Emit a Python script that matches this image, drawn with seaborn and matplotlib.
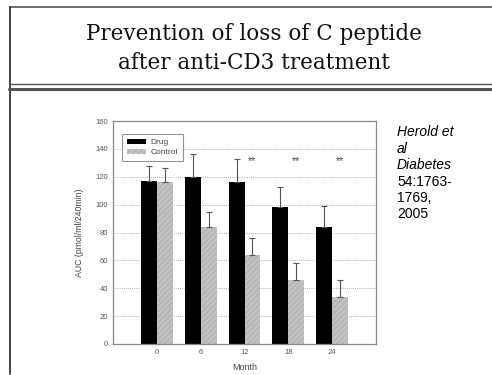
"""
C peptide AUC by month, drug vs control (slide recreation).
"""

import numpy as np
import pandas as pd
import matplotlib
matplotlib.use("Agg")
import matplotlib.pyplot as plt
from matplotlib.lines import Line2D
import seaborn as sns

# --------------------------------------------------
# Data
# --------------------------------------------------
months       = ["0", "6", "12", "18", "24"]
drug_auc     = [117, 120, 116, 98, 84]
control_auc  = [116, 84, 64, 46, 34]
drug_sem     = [11, 16, 17, 15, 15]
control_sem  = [10, 11, 12, 12, 12]
star_months  = ["12", "18", "24"]
star_level   = 131
y_ticks      = [0, 20, 40, 60, 80, 100, 120, 140, 160]

title_lines = ["Prevention of loss of C peptide", "after anti-CD3 treatment"]
ref_italic  = ["Herold et", "al", "Diabetes"]
ref_plain   = ["54:1763-", "1769,", "2005"]

df = pd.DataFrame({
    "Month": months * 2,
    "AUC": drug_auc + control_auc,
    "SEM": drug_sem + control_sem,
    "Group": ["Drug"] * len(months) + ["Control"] * len(months),
})

W, H = 492, 375
sns.set_style("white")
plt.rcParams["font.family"] = ["Liberation Sans", "DejaVu Sans"]
plt.rcParams["hatch.linewidth"] = 0.6

fig = plt.figure(figsize=(W / 100, H / 100), dpi=100)

# slide frame lines (figure pixels -> fraction)
def fx(px):
    return px / W

def fy(py):
    return 1 - py / H

frame_col = "#555555"
fig.add_artist(Line2D([fx(10), 1], [fy(7), fy(7)], color=frame_col, lw=1.2))
fig.add_artist(Line2D([fx(10), fx(10)], [fy(7), fy(374)], color="#222222", lw=1.2))
fig.add_artist(Line2D([fx(9), 1], [fy(84), fy(84)], color=frame_col, lw=1.0))
fig.add_artist(Line2D([fx(9), 1], [fy(88.5), fy(88.5)], color=frame_col, lw=2.2))

# title
for i, line in enumerate(title_lines):
    fig.text(fx(254), fy(40 + 29 * i), line, ha="center", va="baseline",
             fontsize=15.5, family="DejaVu Serif", color="#111111")

# --------------------------------------------------
# Bar chart
# --------------------------------------------------
ax = fig.add_axes([fx(113), fy(344), fx(376) - fx(113), fy(121) - fy(344)])

sns.barplot(
    data=df, x="Month", y="AUC", hue="Group",
    order=months, hue_order=["Drug", "Control"],
    palette={"Drug": "#000000", "Control": "#b8b8b8"},
    width=0.73, gap=0, errorbar=None, ax=ax,
    linewidth=0, legend=False,
)

# hatch the control bars, add one-sided error bars
n = len(months)
for k, bar in enumerate(ax.patches[:2 * n]):
    if k >= n:
        bar.set_hatch("//////")
        bar.set_edgecolor("#d0d0d0")
        bar.set_linewidth(0)
    cx = bar.get_x() + bar.get_width() / 2
    h = bar.get_height()
    err = df["SEM"].iloc[k]
    ax.errorbar(cx, h, yerr=[[0], [err]], fmt="none",
                ecolor="#555555", elinewidth=0.8, capsize=2,
                capthick=0.8)

for m in star_months:
    ax.text(months.index(m) + 0.17, star_level, "**", ha="center",
            va="center", fontsize=7.5, color="#444444")

ax.set_xlim(-1, 5)
ax.set_ylim(0, 160)
ax.set_yticks(y_ticks)
ax.tick_params(length=0, labelsize=5.5, labelcolor="#555555", pad=3.5)
for yv in y_ticks[1:-1]:
    ax.axhline(yv, color="#999999", lw=0.6, ls=(0, (1, 1.5)), zorder=0)
for s in ax.spines.values():
    s.set_color("#888888")
    s.set_linewidth(0.9)

ax.set_xlabel("Month", fontsize=6.5, color="#444444", labelpad=5)
ax.set_ylabel("AUC (pmol/ml/240min)", fontsize=6.3, color="#444444",
              labelpad=8)

handles = [
    plt.Rectangle((0, 0), 1, 1, facecolor="#000000", lw=0),
    plt.Rectangle((0, 0), 1, 1, facecolor="#b8b8b8", hatch="//////",
                  edgecolor="#d0d0d0", lw=0),
]
leg = ax.legend(handles, ["Drug", "Control"], loc="upper left",
                bbox_to_anchor=(9 / 263, 210 / 223), borderaxespad=0,
                fontsize=6, fancybox=False, handlelength=2.3,
                handleheight=0.55, labelspacing=0.25, borderpad=0.6,
                handletextpad=0.5)
leg.get_frame().set_edgecolor("#777777")
leg.get_frame().set_linewidth(0.8)
for t in leg.get_texts():
    t.set_color("#444444")

# reference text on the right
for i, line in enumerate(ref_italic + ref_plain):
    style = "italic" if i < len(ref_italic) else "normal"
    fig.text(fx(397), fy(136.5 + 16.4 * i), line, ha="left",
             va="baseline", fontsize=10, style=style, color="#000000")

plt.savefig("out.png", dpi=100)
print("Saved: out.png")
